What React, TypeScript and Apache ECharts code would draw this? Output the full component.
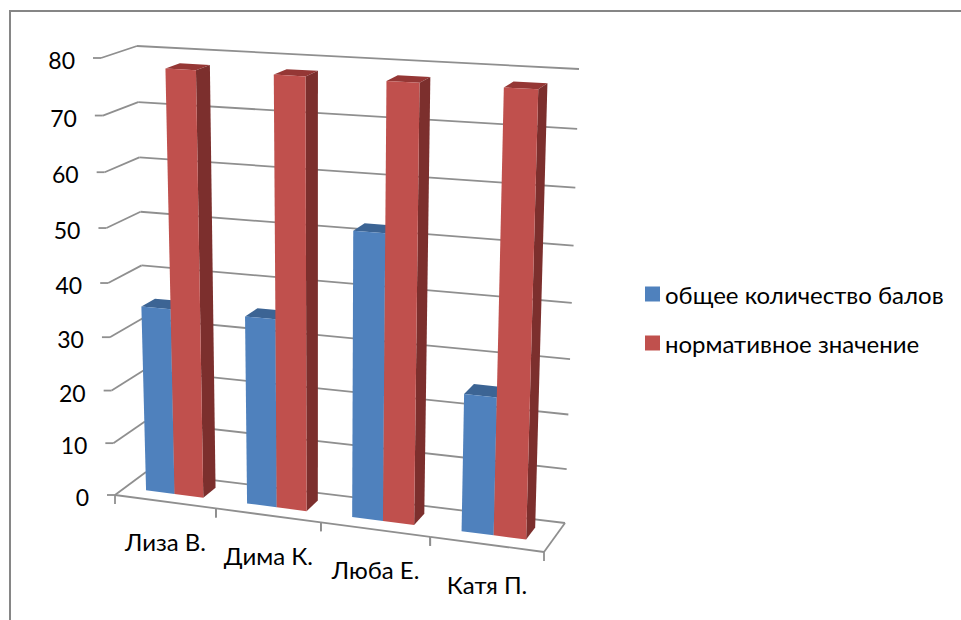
import React, { useEffect, useRef } from "react";
import * as echarts from "echarts";

const categories = ["Лиза В.", "Дима К.", "Люба Е.", "Катя П."];
const seriesNames = ["общее количество балов", "нормативное значение"];
const totalScore = [35, 35, 52, 25];
const normValue = [78, 78, 78, 78];
const yTicks = [0, 10, 20, 30, 40, 50, 60, 70, 80];

const FONT = "Lato, 'Noto Sans', sans-serif";
const LINE = "#8f8f8f";
const GRID = { left: 100, top: 50, width: 480, height: 440 };

type P = [number, number];
const C = {
  fl0: [115, 495] as P, fl1: [101, 58] as P,
  bl0: [146, 472] as P, bl1: [137, 46] as P,
  fr0: [544, 552] as P, fr1: [558, 83] as P,
  br0: [565, 523] as P, br1: [579, 69] as P,
};
const lerp = (a: P, b: P, t: number): P => [a[0] + (b[0] - a[0]) * t, a[1] + (b[1] - a[1]) * t];
const persp = (t: number, k: number) => (k * t) / (1 + (k - 1) * t);

function project(px: number, py: number, v: number): P {
  const u = persp((px - GRID.left) / GRID.width, 0.923);
  const w = persp((GRID.top + GRID.height - py) / GRID.height, 0.942);
  const f0 = lerp(C.fl0, C.fr0, u), f1 = lerp(C.fl1, C.fr1, u);
  const b0 = lerp(C.bl0, C.br0, u), b1 = lerp(C.bl1, C.br1, u);
  return lerp(lerp(f0, f1, w), lerp(b0, b1, w), v);
}

const V_FRONT = 0.32;
const V_BACK = 0.74;
const lineStyle = { stroke: LINE, lineWidth: 1.8, fill: "none" };
const seg = (a: P, b: P) => ({
  type: "line",
  shape: { x1: a[0], y1: a[1], x2: b[0], y2: b[1] },
  style: lineStyle,
});
const poly = (pts: P[], fill: string) => ({ type: "polygon", shape: { points: pts }, style: { fill } });

const barRender = (offset: number, front: string, top: string, side: string) => (params: any, api: any) => {
  const i = api.value(0);
  const val = api.value(1);
  const band = api.size([1, 0])[0];
  const base = api.coord([i, 0]);
  const head = api.coord([i, val]);
  const barW = band / 3.5;
  const x0 = base[0] + offset * barW;
  const x1 = x0 + barW;
  const a = project(x0, base[1], V_FRONT), b = project(x1, base[1], V_FRONT);
  const c = project(x1, head[1], V_FRONT), d = project(x0, head[1], V_FRONT);
  const e = project(x1, base[1], V_BACK), f = project(x1, head[1], V_BACK), g = project(x0, head[1], V_BACK);
  return {
    type: "group",
    children: [poly([d, c, f, g], top), poly([b, e, f, c], side), poly([a, b, c, d], front)],
  };
};

const gridRender = (params: any, api: any) => {
  const val = api.value(1);
  const p = api.coord([0, val]);
  const xL = GRID.left, xR = GRID.left + GRID.width;
  const fl = project(xL, p[1], 0), bl = project(xL, p[1], 1), br = project(xR, p[1], 1);
  return {
    type: "group",
    children: [
      seg(fl, bl), seg(bl, br), seg([fl[0] - 8, fl[1]], fl),
      {
        type: "text",
        style: {
          text: String(val), x: fl[0] - 26, y: fl[1] + 2, fill: "#000", font: `23px ${FONT}`,
          align: "right", verticalAlign: "middle",
        },
      },
    ],
  };
};

const catRender = (params: any, api: any) => {
  const i = api.value(0);
  const base = api.coord([i, 0]);
  const band = api.size([1, 0])[0];
  const y = base[1];
  const xa = base[0] - band / 2, xb = base[0] + band / 2;
  const a = project(xa, y, 0), b = project(xb, y, 0), m = project(base[0], y, 0);
  const children: any[] = [seg(a, b), seg(a, [a[0], a[1] + 9]), seg(b, [b[0], b[1] + 9])];
  if (i === categories.length - 1) children.push(seg(b, project(xb, y, 1)));
  children.push({
    type: "text",
    style: {
      text: categories[i], x: (a[0] + b[0]) / 2, y: m[1] + 40, fill: "#000", font: `24px ${FONT}`,
      align: "center", verticalAlign: "middle",
    },
  });
  return { type: "group", children };
};

export default function App() {
  const ref = useRef<HTMLDivElement>(null);
  useEffect(() => {
    document.body.style.margin = "0";
    const chart = echarts.init(ref.current!, undefined, { renderer: "svg" });
    chart.setOption({
      animation: false,
      backgroundColor: "#ffffff",
      grid: { ...GRID },
      xAxis: { type: "category", data: categories, show: false },
      yAxis: { type: "value", min: 0, max: 80, interval: 10, show: false },
      legend: {
        orient: "vertical", left: 640, top: 277, itemWidth: 15, itemHeight: 15, itemGap: 25,
        icon: "rect", data: seriesNames,
        textStyle: { color: "#000", fontSize: 24, fontFamily: FONT },
        selectedMode: false, formatter: (n: string) => n,
      },
      graphic: [
        {
          type: "polyline",
          shape: { points: [[10, 620], [10, 11], [961, 11]] },
          style: { stroke: "#868686", lineWidth: 2, fill: "none" },
          silent: true,
        },
      ],
      series: [
        { type: "custom", name: "axes", silent: true, z: 1, clip: false, renderItem: gridRender, data: yTicks.map((t) => [0, t]) },
        { type: "custom", name: "floor", silent: true, z: 1, clip: false, renderItem: catRender, data: categories.map((_, i) => [i, 0]) },
        {
          type: "custom", name: seriesNames[0], silent: true, z: 2, clip: false,
          itemStyle: { color: "#4F81BD" },
          renderItem: barRender(-1, "#4F81BD", "#3C6494", "#3C6494"),
          data: totalScore.map((v, i) => [i, v]),
        },
        {
          type: "custom", name: seriesNames[1], silent: true, z: 3, clip: false,
          itemStyle: { color: "#C0504D" },
          renderItem: barRender(0, "#C0504D", "#953735", "#7C2F2D"),
          data: normValue.map((v, i) => [i, v]),
        },
      ],
    });
    return () => chart.dispose();
  }, []);
  return <div ref={ref} style={{ position: "absolute", left: 0, top: 0, width: 961, height: 620 }} />;
}
